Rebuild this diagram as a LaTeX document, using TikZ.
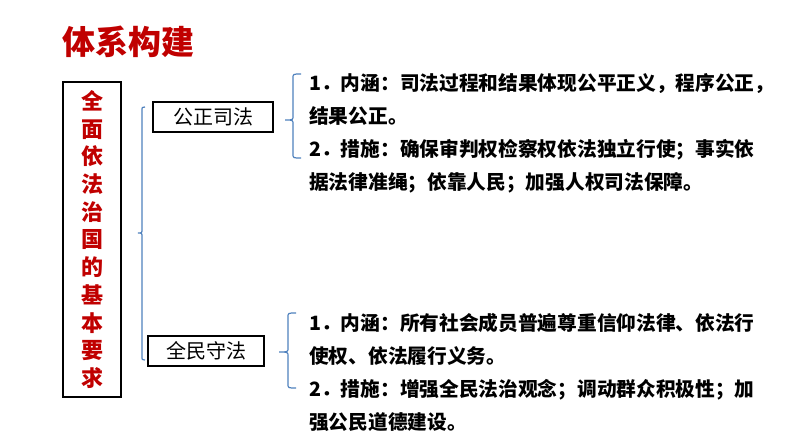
\documentclass[tikz,border=0pt]{standalone}
\usepackage{fontspec}
\usepackage{tikz}
\usetikzlibrary{positioning}
\setmainfont{Noto Sans CJK SC}
\definecolor{titlered}{RGB}{192,0,0}
\definecolor{braceblue}{RGB}{79,129,189}
% x, top, mid, bottom, hook, tick
\newcommand{\drawbrace}[6]{%
  \draw[brace] (#1+#5,#2) .. controls (#1,#2) .. (#1,#2+4) -- (#1,#3-4)
    .. controls (#1,#3) .. (#1-#6,#3) .. controls (#1,#3) .. (#1,#3+4)
    -- (#1,#4-4) .. controls (#1,#4) .. (#1+#5,#4);}

\begin{document}
\begin{tikzpicture}[
  x=1pt, y=-1pt,
  box/.style={draw=black, line width=1.2pt, inner sep=0pt, align=center},
  brace/.style={draw=braceblue, line width=1.2pt},
  item/.style={anchor=north west, inner sep=0pt, align=left,
    font=\fontsize{19.7}{33}\selectfont\bfseries}
]
\useasboundingbox (0,0) rectangle (794,447);
\node[anchor=west, inner sep=0pt, text=titlered,
  font=\fontsize{33}{33}\selectfont\bfseries] (title) at (62,42) {体系构建};
\node[box, minimum width=58pt, minimum height=315pt, text=titlered,
  font=\fontsize{22}{27.7}\selectfont\bfseries] (req) at (92,239.5)
  {全\\面\\依\\法\\治\\国\\的\\基\\本\\要\\求};
\node[box, minimum width=120pt, minimum height=30pt,
  font=\fontsize{20}{20}\selectfont] (justice) at (213,117) {公正司法};
\node[box, minimum width=116pt, minimum height=30pt,
  font=\fontsize{20}{20}\selectfont] (obey) at (206,351) {全民守法};
\drawbrace{142}{107}{233}{360}{3}{4}
\drawbrace{293}{74}{120}{158}{8}{8}
\drawbrace{288}{313}{352}{388}{8}{9}
\node[item] (justicetxt) at (309,73)
  {1．内涵：司法过程和结果体现公平正义，程序公正，\\
   结果公正。\\
   2．措施：确保审判权检察权依法独立行使；事实依\\
   据法律准绳；依靠人民；加强人权司法保障。};
\node[item] (obeytxt) at (309,313)
  {1．内涵：所有社会成员普遍尊重信仰法律、依法行\\
   使权、依法履行义务。\\
   2．措施：增强全民法治观念；调动群众积极性；加\\
   强公民道德建设。};
\end{tikzpicture}
\end{document}
